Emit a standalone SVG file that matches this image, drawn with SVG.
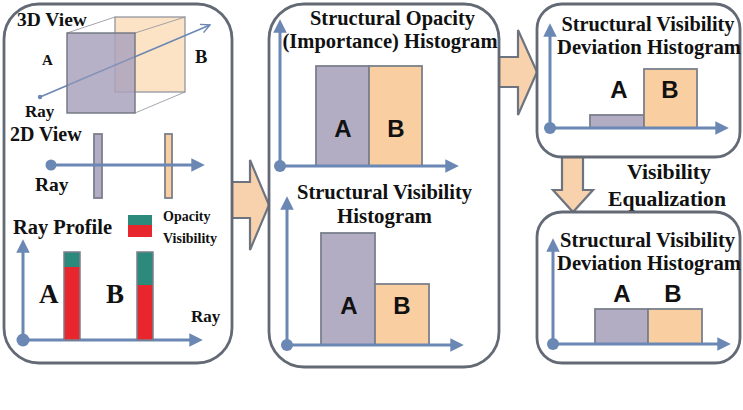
<svg xmlns="http://www.w3.org/2000/svg" width="743" height="410" viewBox="0 0 743 410">
<defs>
<style>
.panel{fill:#fff;stroke:#636a75;stroke-width:2.8}
.axis{stroke:#6b87b3;stroke-width:3;fill:none}
.dot{fill:#6b87b3}
.barA{fill:#b3adc4;stroke:#7a7f8c;stroke-width:1.8}
.barB{fill:#f9cfa1;stroke:#7a7f8c;stroke-width:1.8}
.blk{fill:#f8d2ad;stroke:#6d7480;stroke-width:2.2;stroke-linejoin:miter}
.ser{font-family:"Liberation Serif","Times New Roman",serif;font-weight:bold;fill:#111}
.san{font-family:"Liberation Sans",Arial,sans-serif;font-weight:bold;fill:#111}
.thin{stroke:#8a8f99;stroke-width:0.8;fill:none}
</style>
<marker id="ah" viewBox="0 0 10 10" refX="2" refY="5" markerWidth="4.5" markerHeight="4.5" orient="auto" markerUnits="strokeWidth">
<path d="M0,0 L10,5 L0,10 Z" fill="#6b87b3"/>
</marker>
<marker id="ahOpen" viewBox="0 0 10 10" refX="9" refY="5" markerWidth="7" markerHeight="7" orient="auto" markerUnits="strokeWidth">
<path d="M1,1 L9,5 L1,9" fill="none" stroke="#6b87b3" stroke-width="1.3"/>
</marker>
</defs>

<g id="connectors">
<path class="blk" d="M232,182 L250,182 L250,160 L269,205 L250,250 L250,218 L232,218 Z"/>
<path class="blk" d="M499,57 L518,57 L518,30 L537,72 L518,115 L518,87 L499,87 Z"/>
<path class="blk" d="M562,157 L583,157 L583,190 L593,190 L573,212 L553,190 L562,190 Z"/>
<text class="ser" x="669" y="179" font-size="22" text-anchor="middle" textLength="84" lengthAdjust="spacingAndGlyphs">Visibility</text>
<text class="ser" x="667" y="206" font-size="22" text-anchor="middle" textLength="118" lengthAdjust="spacingAndGlyphs">Equalization</text>
</g>

<g id="ray-panel">
<rect class="panel" x="4" y="4" width="228" height="359" rx="35"/>
<text class="ser" x="17" y="26" font-size="19.5">3D View</text>
<rect x="115" y="17" width="70" height="75" fill="#fde3c6" stroke="#8a8f99" stroke-width="1.2"/>
<line class="thin" x1="67" y1="33" x2="115" y2="17"/>
<line class="thin" x1="135" y1="33" x2="185" y2="17"/>
<line class="thin" x1="135" y1="113" x2="185" y2="92"/>
<line x1="40" y1="97" x2="210" y2="25" stroke="#6b87b3" stroke-width="1.6" marker-end="url(#ahOpen)"/>
<rect x="67" y="33" width="68" height="80" fill="#aaa3bd" fill-opacity="0.85" stroke="#6f7480" stroke-width="1.4"/>
<line x1="67" y1="85.4" x2="135" y2="56.6" stroke="#6b87b3" stroke-width="1.4" stroke-opacity="0.55"/>
<circle cx="40" cy="97" r="2.2" class="dot"/>
<text class="ser" x="42" y="65" font-size="15">A</text>
<text class="ser" x="195" y="63" font-size="18.5">B</text>
<text class="ser" x="25" y="117" font-size="17">Ray</text>

<text class="ser" x="10" y="141" font-size="20">2D View</text>
<rect class="barA" x="94" y="134" width="8" height="64"/>
<rect class="barB" x="165" y="134" width="7" height="64"/>
<line class="axis" x1="51" y1="165" x2="194" y2="165" marker-end="url(#ah)"/>
<circle cx="51" cy="165" r="5.5" class="dot"/>
<text class="ser" x="35" y="191" font-size="19.5">Ray</text>

<text class="ser" x="13" y="234" font-size="20" textLength="99" lengthAdjust="spacingAndGlyphs">Ray Profile</text>
<rect x="128" y="215" width="24" height="10" fill="#2b8a7c"/>
<rect x="128" y="225" width="24" height="12" fill="#e8262e"/>
<text class="ser" x="163" y="221" font-size="14">Opacity</text>
<text class="ser" x="163" y="243" font-size="14">Visibility</text>
<line class="axis" x1="23" y1="340" x2="23" y2="250" marker-end="url(#ah)"/>
<line class="axis" x1="23" y1="340" x2="192" y2="340" marker-end="url(#ah)"/>
<rect x="64" y="252" width="16" height="15" fill="#2b8a7c"/>
<rect x="64" y="267" width="16" height="73" fill="#e8262e"/>
<rect x="64" y="252" width="16" height="88" fill="none" stroke="#7a7f8c" stroke-width="1.5"/>
<rect x="137" y="252" width="16" height="33" fill="#2b8a7c"/>
<rect x="137" y="285" width="16" height="55" fill="#e8262e"/>
<rect x="137" y="252" width="16" height="88" fill="none" stroke="#7a7f8c" stroke-width="1.5"/>
<circle cx="23" cy="340" r="6.5" class="dot"/>
<text class="ser" x="39" y="303" font-size="27">A</text>
<text class="ser" x="106" y="303" font-size="27">B</text>
<text class="ser" x="191" y="322" font-size="17">Ray</text>
</g>

<g id="histogram-panel">
<rect class="panel" x="269" y="4" width="230" height="363" rx="35"/>
<text class="ser" x="392.5" y="25" font-size="20.5" text-anchor="middle" textLength="165" lengthAdjust="spacingAndGlyphs">Structural Opacity</text>
<text class="ser" x="390" y="48" font-size="20.5" text-anchor="middle" textLength="215" lengthAdjust="spacingAndGlyphs">(Importance) Histogram</text>
<rect class="barA" x="316" y="66" width="53" height="100"/>
<rect class="barB" x="369" y="66" width="53" height="100"/>
<line class="axis" x1="280" y1="166" x2="280" y2="30" marker-end="url(#ah)"/>
<line class="axis" x1="280" y1="166" x2="448" y2="166" marker-end="url(#ah)"/>
<circle cx="280" cy="166" r="6" class="dot"/>
<text class="san" x="343" y="137" font-size="24" text-anchor="middle">A</text>
<text class="san" x="396" y="137" font-size="24" text-anchor="middle">B</text>

<text class="ser" x="384.5" y="199" font-size="20.5" text-anchor="middle" textLength="175" lengthAdjust="spacingAndGlyphs">Structural Visibility</text>
<text class="ser" x="384.5" y="223" font-size="20.5" text-anchor="middle" textLength="95" lengthAdjust="spacingAndGlyphs">Histogram</text>
<rect class="barA" x="321" y="233" width="54" height="112"/>
<rect class="barB" x="375" y="284" width="54" height="61"/>
<line class="axis" x1="287" y1="345" x2="287" y2="207" marker-end="url(#ah)"/>
<line class="axis" x1="287" y1="345" x2="453" y2="345" marker-end="url(#ah)"/>
<circle cx="287" cy="345" r="6" class="dot"/>
<text class="san" x="349" y="314" font-size="24" text-anchor="middle">A</text>
<text class="san" x="402" y="314" font-size="24" text-anchor="middle">B</text>
</g>

<g id="deviation-panel">
<rect class="panel" x="537" y="4" width="203" height="153" rx="25"/>
<text class="ser" x="648" y="31" font-size="20.5" text-anchor="middle" textLength="173" lengthAdjust="spacingAndGlyphs">Structural Visibility</text>
<text class="ser" x="649" y="54" font-size="20.5" text-anchor="middle" textLength="184" lengthAdjust="spacingAndGlyphs">Deviation Histogram</text>
<rect class="barA" x="590" y="115" width="54" height="13"/>
<rect class="barB" x="644" y="69" width="53" height="59"/>
<line class="axis" x1="550" y1="128" x2="550" y2="34" marker-end="url(#ah)"/>
<line class="axis" x1="550" y1="128" x2="718" y2="128" marker-end="url(#ah)"/>
<circle cx="550" cy="128" r="6" class="dot"/>
<text class="san" x="619" y="98" font-size="24" text-anchor="middle">A</text>
<text class="san" x="670" y="98" font-size="24" text-anchor="middle">B</text>
</g>

<g id="equalized-panel">
<rect class="panel" x="537" y="212" width="203" height="151" rx="25"/>
<text class="ser" x="647.5" y="247" font-size="20.5" text-anchor="middle" textLength="175" lengthAdjust="spacingAndGlyphs">Structural Visibility</text>
<text class="ser" x="649" y="270" font-size="20.5" text-anchor="middle" textLength="184" lengthAdjust="spacingAndGlyphs">Deviation Histogram</text>
<rect class="barA" x="595" y="309" width="53" height="35"/>
<rect class="barB" x="648" y="309" width="54" height="35"/>
<line class="axis" x1="553" y1="344" x2="553" y2="249" marker-end="url(#ah)"/>
<line class="axis" x1="553" y1="344" x2="720" y2="344" marker-end="url(#ah)"/>
<circle cx="553" cy="344" r="6" class="dot"/>
<text class="san" x="622" y="302" font-size="24" text-anchor="middle">A</text>
<text class="san" x="673" y="302" font-size="24" text-anchor="middle">B</text>
</g>
</svg>
